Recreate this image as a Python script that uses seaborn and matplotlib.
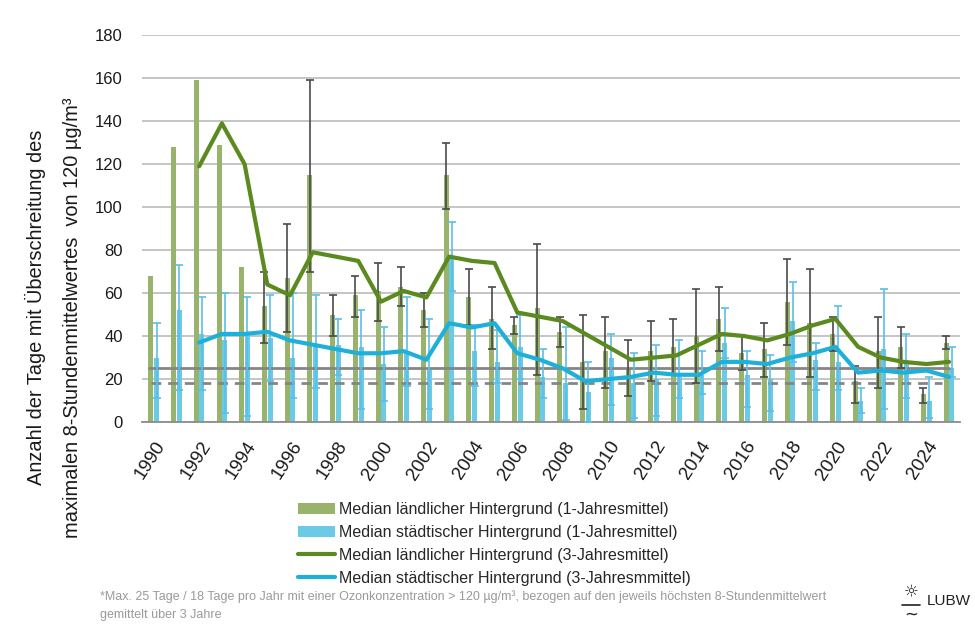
import numpy as np
import pandas as pd
import matplotlib
matplotlib.use("Agg")
import matplotlib.pyplot as plt
import matplotlib.transforms as mtransforms
import seaborn as sns
from matplotlib.patches import Patch
from matplotlib.lines import Line2D

# ---------------- data ----------------
years = list(range(1990, 2026))

rural_1y = [68, 128, 159, 129, 72, 54, 67, 115, 50, 59, 61, 63, 52, 115, 58, 48, 45, 53,
            42, 28, 33, 25, 33, 35, 40, 48, 32, 34, 56, 46, 41, 19, 33, 35, 13, 37]
rural_lo = [np.nan, np.nan, np.nan, np.nan, np.nan, 37, 42, 70, 40, 49, 47, 54, 44, 99, 45, 34, 41, 22,
            35, 6, 16, 12, 19, 22, 18, 33, 24, 21, 36, 21, 33, 9, 16, 25, 9, 34]
rural_hi = [np.nan, np.nan, np.nan, np.nan, np.nan, 70, 92, 159, 59, 68, 74, 72, 60, 130, 71, 63, 49, 83,
            49, 50, 49, 38, 47, 48, 62, 63, 40, 46, 76, 71, 49, 26, 49, 44, 16, 40]

urban_1y = [30, 52, 41, 38, 42, 39, 30, 36, 36, 35, 27, 33, 24, 77, 33, 28, 35, 21,
            18, 14, 30, 18, 20, 21, 22, 37, 22, 20, 47, 29, 28, 10, 34, 27, 10, 25]
urban_lo = [11, 15, 15, 4, 3, 19, 11, 16, 22, 6, 10, 17, 6, 61, 17, 18, 20, 11,
            1, 0, 8, 2, 3, 11, 13, 30, 7, 5, 28, 15, 15, 4, 6, 11, 2, 21]
urban_hi = [46, 73, 58, 60, 58, 59, 60, 59, 48, 52, 44, 58, 48, 93, 45, 43, 50, 34,
            44, 28, 41, 32, 36, 38, 33, 53, 33, 31, 65, 37, 54, 16, 62, 41, 21, 35]

rural_3y = [np.nan, np.nan, 119, 139, 120, 64, 59, 79, 77, 75, 56, 61, 58, 77, 75, 74, 51, 49,
            47, 41, 35, 29, 30, 31, 36, 41, 40, 38, 41, 45, 48, 35, 30, 28, 27, 28]
urban_3y = [np.nan, np.nan, 37, 41, 41, 42, 38, 36, 34, 32, 32, 33, 29, 46, 44, 46, 32, 29,
            25, 19, 20, 21, 23, 22, 22, 28, 28, 27, 30, 32, 35, 23, 24, 23, 24, 21]

limit_rural = 25
limit_urban = 18

series_names = [
    "Median ländlicher Hintergrund (1-Jahresmittel)",
    "Median städtischer Hintergrund (1-Jahresmittel)",
    "Median ländlicher Hintergrund (3-Jahresmittel)",
    "Median städtischer Hintergrund (3-Jahresmmittel)",
]
y_ticks = list(range(0, 181, 20))
x_tick_years = list(range(1990, 2025, 2))

# ---------------- style ----------------
green_bar = "#97b36c"
blue_bar = "#6bcbe6"
green_line = "#5b8a1f"
blue_line = "#1eb0d8"
green_err = "#4a4a4a"
blue_err = "#5bbfe8"

sns.set_theme(style="white")
plt.rcParams["font.family"] = ["Liberation Sans", "DejaVu Sans"]

fig = plt.figure(figsize=(9.75, 6.29), dpi=100)
ax = fig.add_axes([0.146, 0.329, 0.839, 0.615])

n = len(years)
df = pd.DataFrame({
    "Jahr": [str(y) for y in years] * 2,
    "Tage": rural_1y + urban_1y,
    "Gruppe": [series_names[0]] * n + [series_names[1]] * n,
})
sns.barplot(data=df, x="Jahr", y="Tage", hue="Gruppe",
            palette=[green_bar, blue_bar], width=0.5, gap=0.12,
            saturation=1, errorbar=None, legend=False, ax=ax, zorder=2,
            linewidth=0, edgecolor="none")

pos = np.arange(n)
off = 0.125

def draw_err(xs, v, lo, hi, color):
    v = np.asarray(v, float); lo = np.asarray(lo, float); hi = np.asarray(hi, float)
    m = ~np.isnan(lo)
    ax.errorbar(xs[m], v[m], yerr=[v[m] - lo[m], hi[m] - v[m]], fmt="none",
                ecolor=color, elinewidth=1.2, capsize=3, capthick=1.2, zorder=4)

draw_err(pos - off, rural_1y, rural_lo, rural_hi, green_err)
draw_err(pos + off, urban_1y, urban_lo, urban_hi, blue_err)

# limit lines
ax.plot([-0.2, n - 1], [limit_rural, limit_rural], color="#858585", lw=2, zorder=3)
ax.plot([-0.1, n - 1.3], [limit_urban, limit_urban], color="#858585", lw=2,
        ls=(0, (3.5, 2.5)), zorder=3)

# 3-year lines
sns.lineplot(x=pos, y=rural_3y, color=green_line, lw=3, ax=ax, zorder=5)
sns.lineplot(x=pos, y=urban_3y, color=blue_line, lw=3, ax=ax, zorder=5)

# axes
ax.set_ylim(0, 180)
ax.set_xlim(-0.5, n - 0.5)
ax.set_yticks(y_ticks)
ax.yaxis.grid(True, color="#c0c0c0", lw=1.3)
ax.set_axisbelow(True)
for s in ["top", "right", "left"]:
    ax.spines[s].set_visible(False)
ax.spines["bottom"].set_color("#8c8c8c")
ax.spines["bottom"].set_linewidth(1.3)
ax.set_xlabel("")
ax.set_ylabel("")
ax.tick_params(axis="y", length=0, pad=14, labelsize=12, labelcolor="#1a1a1a")

ax.set_xticks([years.index(y) for y in x_tick_years])
ax.set_xticklabels([str(y) for y in x_tick_years], rotation=57, ha="right",
                   va="center", rotation_mode="anchor", fontsize=13.5, color="#1a1a1a")
ax.set_xticks(np.arange(-0.5, n, 1), minor=True)
ax.tick_params(axis="x", which="major", length=0, pad=15)
ax.tick_params(axis="x", which="minor", length=7, width=1.3, color="#8c8c8c", direction="out")
shift = mtransforms.ScaledTranslation(8 / 100, 0, fig.dpi_scale_trans)
for lab in ax.get_xticklabels():
    lab.set_transform(lab.get_transform() + shift)

# y label (two lines)
fig.text(0.036, 1 - 307 / 629, "Anzahl der Tage mit Überschreitung des", rotation=90,
         ha="center", va="center", fontsize=14.4, color="#1a1a1a")
fig.text(0.074, 1 - 318 / 629, "maximalen 8-Stundenmittelwertes  von 120 µg/m³", rotation=90,
         ha="center", va="center", fontsize=14.4, color="#1a1a1a")

# legend
handles = [
    Patch(facecolor=green_bar, edgecolor="none"),
    Patch(facecolor=blue_bar, edgecolor="none"),
    Line2D([0], [0], color=green_line, lw=3),
    Line2D([0], [0], color=blue_line, lw=3),
]
fig.legend(handles, series_names, loc="upper left", bbox_to_anchor=(0.306, 1 - 502 / 629),
           frameon=False, fontsize=11.5, handlelength=2.3, handleheight=0.7,
           handletextpad=0.25, labelspacing=0.5, borderaxespad=0, borderpad=0)

# footnote
fig.text(100 / 975, 1 - 597 / 629,
         "*Max. 25 Tage / 18 Tage pro Jahr mit einer Ozonkonzentration > 120 µg/m³, "
         "bezogen auf den jeweils höchsten 8-Stundenmittelwert",
         ha="left", va="center", fontsize=9, color="#9a9a9a")
fig.text(100 / 975, 1 - 615 / 629, "gemittelt über 3 Jahre",
         ha="left", va="center", fontsize=9, color="#9a9a9a")

# logo (text approximation)
fig.text(927 / 975, 1 - 601 / 629, "LUBW", ha="left", va="center", fontsize=11,
         color="#222222", fontstretch="condensed")
fig.text(911 / 975, 1 - 592 / 629, "☼", ha="center", va="center", fontsize=12,
         color="#222222", family=["DejaVu Sans"])
fig.add_artist(Line2D([902 / 975, 920 / 975], [1 - 605 / 629, 1 - 605 / 629],
                      color="#222222", lw=1.2))
fig.text(911 / 975, 1 - 615 / 629, "~", ha="center", va="center", fontsize=12,
         color="#222222", family=["DejaVu Sans"])

fig.savefig("out.png", dpi=100)
